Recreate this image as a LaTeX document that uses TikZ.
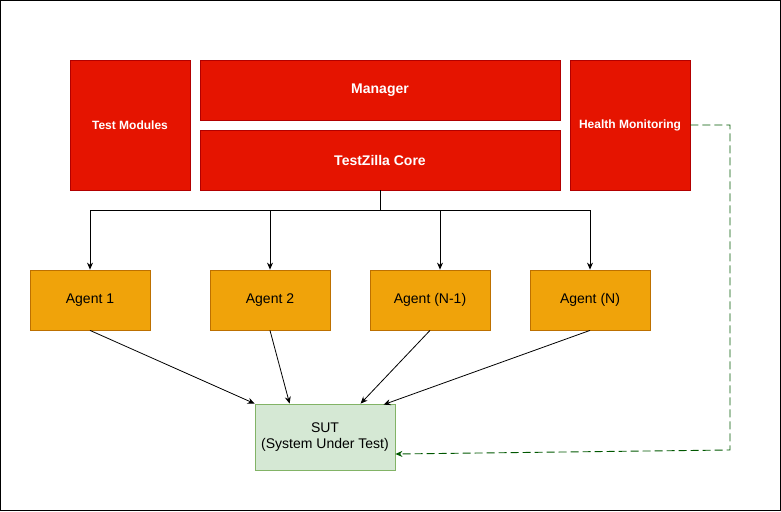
\documentclass[tikz,border=0pt]{standalone}
\usepackage{fontspec}
\setmainfont{Liberation Sans}
\usetikzlibrary{arrows.meta}
\definecolor{redfill}{HTML}{E51400}
\definecolor{redline}{HTML}{B20000}
\definecolor{orfill}{HTML}{F0A30A}
\definecolor{orline}{HTML}{BD7000}
\definecolor{grfill}{HTML}{D5E8D4}
\definecolor{grline}{HTML}{82B366}
\definecolor{dgreen}{HTML}{005700}
\tikzset{
  redbox/.style={draw=redline, fill=redfill, text=white, font=\bfseries, inner sep=0pt, line width=0.8pt},
  agentbox/.style={draw=orline, fill=orfill, text=black, inner sep=0pt, line width=0.8pt, minimum width=120pt, minimum height=60pt, font=\fontsize{14pt}{16pt}\selectfont},
  sutbox/.style={draw=grline, fill=grfill, text=black, inner sep=0pt, line width=0.8pt, minimum width=140pt, minimum height=66pt, align=center, font=\fontsize{14pt}{16pt}\selectfont},
  conn/.style={draw=black, line width=0.8pt, -{Stealth[length=7pt,width=6pt]}},
  dconn/.style={draw=dgreen, line width=0.9pt, dash pattern=on 8pt off 4pt, -{Stealth[length=7pt,width=6pt]}}
}
\begin{document}
\begin{tikzpicture}[x=1pt,y=-1pt]
\useasboundingbox (0,0) rectangle (781,511);
\draw[black, line width=0.8pt] (0.5,0.5) rectangle (780.5,510.5);
\node[redbox, minimum width=120pt, minimum height=130pt, font=\bfseries\fontsize{12pt}{14pt}\selectfont] (tm) at (130,125) {Test Modules};
\node[redbox, minimum width=360pt, minimum height=60pt, font=\bfseries\fontsize{14pt}{16pt}\selectfont] (mgr) at (380,90) {Manager};
\node[redbox, minimum width=360pt, minimum height=60pt, font=\bfseries\fontsize{14pt}{16pt}\selectfont] (core) at (380,160) {TestZilla Core};
\node[redbox, minimum width=120pt, minimum height=130pt, font=\bfseries\fontsize{12pt}{14pt}\selectfont] (hm) at (630,125) {Health Monitoring};
\node[agentbox] (a1) at (90,300) {Agent 1};
\node[agentbox] (a2) at (270,300) {Agent 2};
\node[agentbox] (an1) at (430,300) {Agent (N-1)};
\node[agentbox] (an) at (590,300) {Agent (N)};
\node[sutbox] (sut) at (325,437) {SUT\\(System Under Test)};
\coordinate (bus) at (380,210);
\draw[line width=0.8pt] (core.south) -- (bus);
\draw[conn] (bus) -| (a1.north);
\draw[conn] (bus) -| (a2.north);
\draw[conn] (bus) -| ([xshift=10pt]an1.north);
\draw[conn] (bus) -| (an.north);
\draw[conn] (a1.south) -- (sut.north west);
\draw[conn] (a2.south) -- ([xshift=35pt]sut.north west);
\draw[conn] (an1.south) -- ([xshift=106pt]sut.north west);
\draw[conn] (an.south) -- ([xshift=129pt,yshift=-1pt]sut.north west);
\coordinate (c1) at (730,125);
\coordinate (c2) at (730,450);
\draw[dconn] (hm.east) -- (c1) -- (c2) -- ([yshift=-17pt]sut.east);
\end{tikzpicture}
\end{document}
